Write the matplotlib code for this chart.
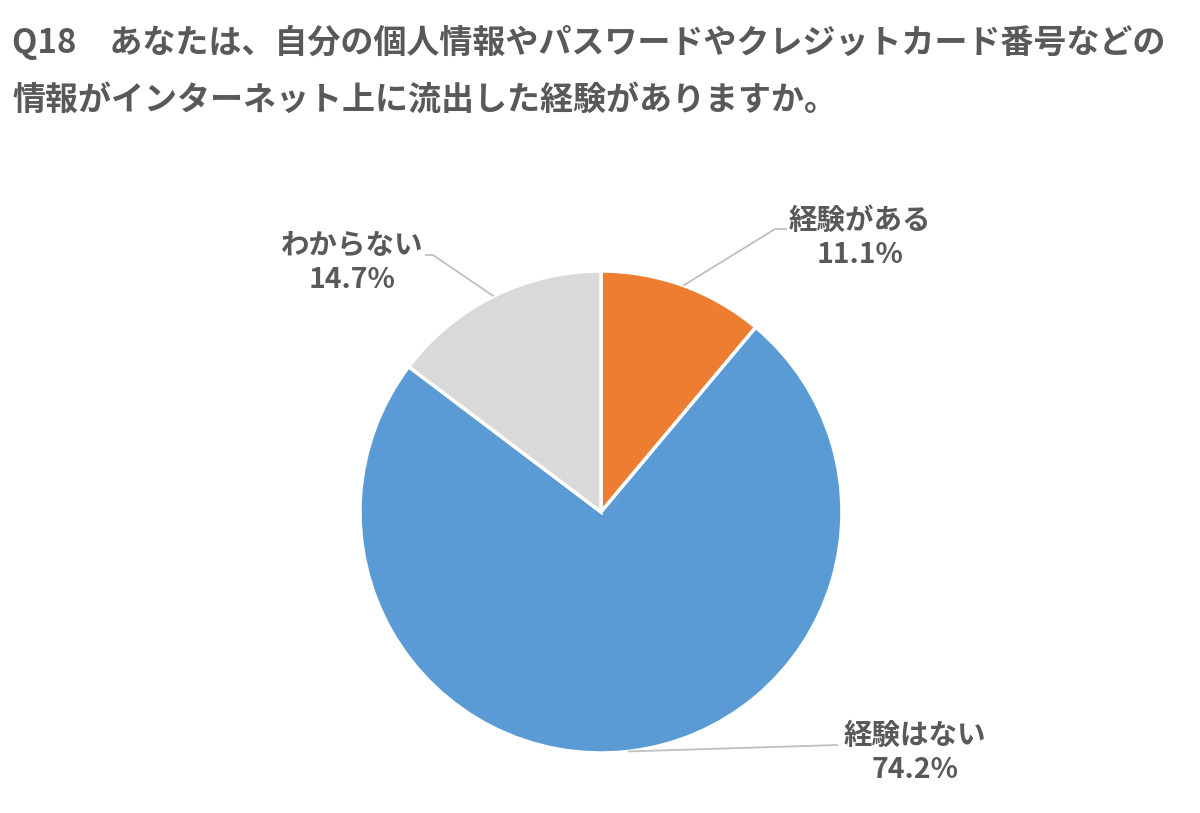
import numpy as np
import matplotlib
matplotlib.use("Agg")
import matplotlib.pyplot as plt

plt.rcParams['font.family'] = ['Noto Sans CJK JP', 'DejaVu Sans']

# data
labels = ['経験がある', '経験はない', 'わからない']
values = [11.1, 74.2, 14.7]
colors = ['#ED7D31', '#5B9BD5', '#D9D9D9']

title_1 = 'Q18　あなたは、自分の個人情報やパスワードやクレジットカード番号などの'
title_2 = '情報がインターネット上に流出した経験がありますか。'

W, H = 1200, 813
fig = plt.figure(figsize=(W / 100, H / 100), dpi=100)
ax = fig.add_axes([0, 0, 1, 1])

cx, cy, r = 601, H - 512, 241
wedges, _ = ax.pie(values, colors=colors, startangle=90, counterclock=False,
                   center=(cx, cy), radius=r, frame=True,
                   wedgeprops=dict(edgecolor='white', linewidth=2.5))
ax.set_xlim(0, W)
ax.set_ylim(0, H)
ax.set_aspect('equal')
ax.axis('off')

txt_color = '#595959'
line_color = '#BFBFBF'

# label text positions (pixels from top-left) and leader elbows
label_pos = [(860, 238), (915, 753), (352, 263)]
elbows = [[(775, 229), (787, 229)], [(838, 745)], [(433, 255), (425, 255)]]

for w, lab, v, (tx, ty), elb in zip(wedges, labels, values, label_pos, elbows):
    ang = np.deg2rad((w.theta1 + w.theta2) / 2)
    px = cx + r * np.cos(ang)
    py = cy + r * np.sin(ang)
    xs = [px] + [e[0] for e in elb]
    ys = [py] + [H - e[1] for e in elb]
    ax.plot(xs, ys, color=line_color, lw=1.3, solid_capstyle='butt')
    ax.text(tx, H - ty, f'{lab}\n{v:.1f}%', ha='center', va='center',
            fontsize=20.5, fontweight='bold', color=txt_color, linespacing=1.27)

ax.text(12, H - 42, title_1, ha='left', va='center', fontsize=23.8,
        fontweight='bold', color=txt_color)
ax.text(12, H - 100, title_2, ha='left', va='center', fontsize=23.8,
        fontweight='bold', color=txt_color)

fig.savefig('out.png', dpi=100)
